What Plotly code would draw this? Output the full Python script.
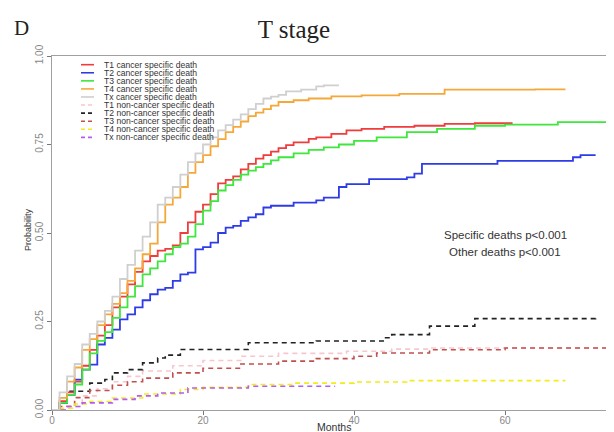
import plotly.graph_objects as go

# ---------------- data (months, cumulative probability) ----------------
names = [
    "T1 cancer specific death", "T2 cancer specific death", "T3 cancer specific death",
    "T4 cancer specific death", "Tx cancer specific death",
    "T1 non-cancer specific death", "T2 non-cancer specific death", "T3 non-cancer specific death",
    "T4 non-cancer specific death", "Tx non-cancer specific death",
]
colors = ["#f03c3c", "#2e3ce6", "#3ee63e", "#f5a83a", "#cfcfcf",
          "#f7c6cf", "#222222", "#c0504d", "#f2ec1a", "#b35cf0"]
dashes = ["solid"] * 5 + ["dash"] * 5

t1_cs_t = [0, 1, 2, 3, 4, 5, 6, 7, 8, 9, 10, 11, 12, 13, 14, 15, 16, 17, 18, 19, 20, 21, 22, 23, 24, 25, 26, 27, 28, 29, 30, 31, 32, 34, 35, 37, 39, 41, 44, 48, 52, 56, 61]
t1_cs_p = [0, 0.025, 0.05, 0.08, 0.125, 0.17, 0.21, 0.24, 0.29, 0.32, 0.355, 0.39, 0.42, 0.435, 0.45, 0.455, 0.465, 0.50, 0.53, 0.56, 0.58, 0.61, 0.64, 0.65, 0.66, 0.68, 0.695, 0.71, 0.72, 0.73, 0.74, 0.748, 0.756, 0.766, 0.77, 0.78, 0.79, 0.794, 0.80, 0.803, 0.808, 0.81, 0.81]

t2_cs_t = [0, 1, 2, 3, 4, 5, 6, 7, 8, 9, 10, 11, 12, 13, 14, 15, 16, 17, 18, 19, 20, 21, 22, 23, 24, 25, 26, 27, 28, 29, 32, 35, 36, 38, 39, 42, 47, 48, 49, 59, 69, 70, 72]
t2_cs_p = [0, 0.02, 0.043, 0.086, 0.114, 0.128, 0.185, 0.204, 0.227, 0.256, 0.27, 0.29, 0.31, 0.327, 0.34, 0.345, 0.365, 0.383, 0.388, 0.454, 0.46, 0.473, 0.50, 0.515, 0.52, 0.534, 0.544, 0.553, 0.572, 0.577, 0.586, 0.592, 0.60, 0.63, 0.638, 0.652, 0.657, 0.668, 0.695, 0.704, 0.714, 0.72, 0.72]

t3_cs_t = [0, 1, 2, 3, 4, 5, 6, 7, 8, 9, 10, 11, 12, 13, 14, 15, 16, 17, 18, 19, 20, 21, 22, 23, 24, 25, 26, 27, 28, 29, 30, 32, 34, 36, 38, 40, 43, 47, 51, 56, 60, 67, 75]
t3_cs_p = [0, 0.02, 0.043, 0.072, 0.114, 0.16, 0.195, 0.22, 0.26, 0.29, 0.32, 0.35, 0.383, 0.40, 0.42, 0.44, 0.46, 0.47, 0.49, 0.525, 0.563, 0.59, 0.62, 0.635, 0.65, 0.665, 0.676, 0.686, 0.695, 0.705, 0.714, 0.725, 0.735, 0.742, 0.75, 0.76, 0.77, 0.785, 0.794, 0.803, 0.806, 0.813, 0.813]

t4_cs_t = [0, 1, 2, 3, 4, 5, 6, 7, 8, 9, 10, 11, 12, 13, 14, 15, 16, 17, 18, 19, 20, 21, 22, 23, 24, 25, 26, 27, 28, 29, 30, 32, 34, 37, 41, 46, 52, 64, 68]
t4_cs_p = [0, 0.034, 0.08, 0.12, 0.17, 0.20, 0.24, 0.27, 0.30, 0.33, 0.365, 0.40, 0.44, 0.47, 0.53, 0.58, 0.60, 0.63, 0.67, 0.70, 0.72, 0.745, 0.765, 0.785, 0.80, 0.815, 0.83, 0.84, 0.85, 0.86, 0.87, 0.875, 0.88, 0.886, 0.889, 0.893, 0.905, 0.906, 0.906]

tx_cs_t = [0, 1, 2, 3, 4, 5, 6, 7, 8, 9, 10, 11, 12, 13, 14, 15, 16, 17, 18, 19, 20, 21, 22, 23, 24, 25, 26, 27, 28, 29, 30, 31, 33, 35, 36, 38]
tx_cs_p = [0, 0.05, 0.095, 0.13, 0.185, 0.215, 0.25, 0.28, 0.32, 0.37, 0.41, 0.45, 0.49, 0.53, 0.58, 0.60, 0.63, 0.665, 0.70, 0.725, 0.75, 0.77, 0.79, 0.805, 0.82, 0.835, 0.85, 0.865, 0.88, 0.885, 0.89, 0.90, 0.905, 0.914, 0.917, 0.917]

t1_oc_t = [0, 2, 4, 6, 8, 10, 12, 16, 20, 25, 30, 39, 45, 50, 75]
t1_oc_p = [0, 0.01, 0.04, 0.06, 0.08, 0.095, 0.11, 0.125, 0.14, 0.152, 0.16, 0.166, 0.172, 0.175, 0.176]

t2_oc_t = [0, 1, 2, 5, 7, 8, 10, 12, 14, 15, 17, 26, 35, 44, 45, 50, 56, 72]
t2_oc_p = [0, 0.02, 0.053, 0.076, 0.086, 0.105, 0.114, 0.133, 0.147, 0.155, 0.171, 0.19, 0.195, 0.204, 0.213, 0.237, 0.258, 0.26]

t3_oc_t = [0, 1, 3, 5, 8, 10, 12, 16, 20, 25, 30, 35, 40, 43, 50, 60, 75]
t3_oc_p = [0, 0.01, 0.035, 0.055, 0.07, 0.08, 0.09, 0.105, 0.118, 0.13, 0.138, 0.145, 0.152, 0.161, 0.17, 0.175, 0.176]

t4_oc_t = [0, 1, 3, 5, 8, 12, 17, 20, 26, 32, 40, 47, 68]
t4_oc_p = [0, 0.005, 0.017, 0.024, 0.034, 0.045, 0.058, 0.064, 0.072, 0.076, 0.079, 0.083, 0.083]

tx_oc_t = [0, 2, 4, 8, 11, 14, 18, 26, 37.5]
tx_oc_p = [0, 0.01, 0.02, 0.03, 0.04, 0.048, 0.062, 0.067, 0.067]

series_t = [t1_cs_t, t2_cs_t, t3_cs_t, t4_cs_t, tx_cs_t, t1_oc_t, t2_oc_t, t3_oc_t, t4_oc_t, tx_oc_t]
series_p = [t1_cs_p, t2_cs_p, t3_cs_p, t4_cs_p, tx_cs_p, t1_oc_p, t2_oc_p, t3_oc_p, t4_oc_p, tx_oc_p]

x_ticks = [0, 20, 40, 60]
y_ticks = [0, 0.25, 0.5, 0.75, 1.0]
y_ticktext = ["0.00", "0.25", "0.50", "0.75", "1.00"]

# ---------------- figure ----------------
fig = go.Figure()
order = list(range(5, 10)) + list(range(0, 5))
for i in order:
    fig.add_trace(go.Scatter(
        x=series_t[i], y=series_p[i], mode="lines", name=names[i],
        line=dict(color=colors[i], width=1.8 if i < 5 else 1.6,
                  dash="solid" if dashes[i] == "solid" else "5px,4px", shape="hv"),
        showlegend=False, hoverinfo="skip"))

W, H = 614, 432
ml, mr, mt, mb = 44, 6, 48, 30
pw, ph = W - ml - mr, H - mt - mb

def px2paper_x(px):
    return (px - ml) / pw

def py2paper_y(py):
    return (H - mb - py) / ph

sans = "Liberation Sans, Arial"
serif = "Liberation Serif, Times New Roman"
shapes = []
annotations = []
# compact legend (as in the reference, rows are tightly packed)
for i, nm in enumerate(names):
    py = 56.7 + 8.07 * i
    yy = py2paper_y(py)
    shapes.append(dict(type="line", xref="paper", yref="paper",
                       x0=px2paper_x(73), x1=px2paper_x(86), y0=yy, y1=yy,
                       line=dict(color=colors[i], width=1.6,
                                 dash="solid" if dashes[i] == "solid" else "4px,3px")))
    annotations.append(dict(xref="paper", yref="paper", x=px2paper_x(94), y=yy,
                            text=nm, showarrow=False, xanchor="left", yanchor="middle",
                            font=dict(family=sans, size=8.6, color="#333333")))

annotations.append(dict(xref="x", yref="y", x=60, y=0.493, text="Specific deaths p<0.001",
                        showarrow=False, xanchor="center", yanchor="middle",
                        font=dict(family=sans, size=11.5, color="#333333")))
annotations.append(dict(xref="x", yref="y", x=60, y=0.445, text="Other deaths p<0.001",
                        showarrow=False, xanchor="center", yanchor="middle",
                        font=dict(family=sans, size=11.5, color="#333333")))
annotations.append(dict(xref="paper", yref="paper", x=px2paper_x(13), y=py2paper_y(20),
                        text="D", showarrow=False, xanchor="center", yanchor="middle",
                        font=dict(family=serif, size=21, color="#222222")))
# axis titles
annotations.append(dict(xref="paper", yref="paper", x=0.5, y=py2paper_y(419),
                        text="Months", showarrow=False, xanchor="center", yanchor="middle",
                        font=dict(family=sans, size=10.5, color="#333333")))
annotations.append(dict(xref="paper", yref="paper", x=px2paper_x(20), y=py2paper_y(222),
                        text="Probability", showarrow=False, xanchor="center", yanchor="middle",
                        textangle=-90, font=dict(family=sans, size=9, color="#333333")))

fig.update_layout(
    width=W, height=H,
    margin=dict(l=ml, r=mr, t=mt, b=mb, autoexpand=False),
    paper_bgcolor="white", plot_bgcolor="white",
    title=dict(text="T stage", x=286 / W, xanchor="center", y=1 - 21 / H, yanchor="middle",
               font=dict(family=serif, size=25, color="#222222")),
    shapes=shapes, annotations=annotations,
    showlegend=False,
    xaxis=dict(range=[0, 74.7], tickvals=x_ticks, ticks="outside", ticklen=4, tickcolor="#777777",
               showline=True, mirror=True, linecolor="#a0a0a0", linewidth=1,
               showgrid=False, zeroline=False, automargin=False, ticklabelstandoff=-3,
               tickfont=dict(family=sans, size=10, color="#888888")),
    yaxis=dict(range=[0, 1], tickvals=y_ticks, ticktext=y_ticktext, tickangle=-90,
               ticks="outside", ticklen=4, tickcolor="#777777",
               showline=True, mirror=True, linecolor="#a0a0a0", linewidth=1,
               showgrid=False, zeroline=False, automargin=False,
               tickfont=dict(family=sans, size=10, color="#888888")),
)

fig.write_html("out.html")
